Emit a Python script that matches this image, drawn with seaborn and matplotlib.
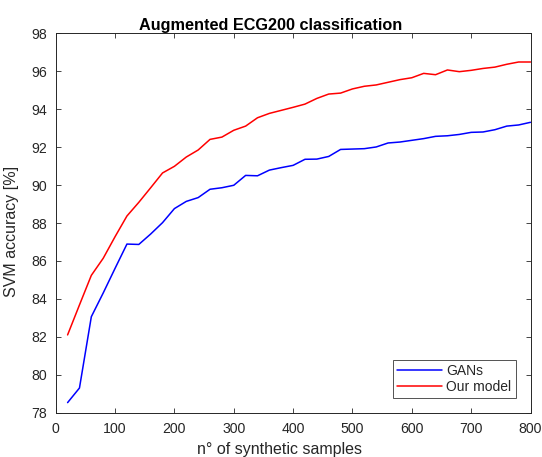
import numpy as np
import pandas as pd
import matplotlib
matplotlib.use("Agg")
import matplotlib.pyplot as plt
import seaborn as sns

samples = list(range(20, 801, 20))
gans = [78.53, 79.30, 83.06, 84.31, 85.61, 86.89, 86.87, 87.42, 88.02, 88.76,
        89.14, 89.34, 89.78, 89.86, 89.99, 90.51, 90.49, 90.79, 90.92, 91.04,
        91.36, 91.37, 91.51, 91.88, 91.90, 91.92, 92.01, 92.22, 92.27, 92.36,
        92.45, 92.57, 92.60, 92.67, 92.78, 92.80, 92.92, 93.11, 93.17, 93.31]
ours = [82.10, 83.68, 85.24, 86.14, 87.28, 88.37, 89.09, 89.86, 90.64, 90.99,
        91.48, 91.85, 92.41, 92.53, 92.89, 93.11, 93.55, 93.78, 93.94, 94.10,
        94.27, 94.57, 94.80, 94.85, 95.07, 95.21, 95.28, 95.42, 95.56, 95.66,
        95.89, 95.82, 96.07, 95.98, 96.05, 96.15, 96.22, 96.37, 96.49, 96.49]
series_names = ["GANs", "Our model"]
series_colors = ["#0000ff", "#ff0000"]
x_ticks = [0, 100, 200, 300, 400, 500, 600, 700, 800]
y_ticks = [78, 80, 82, 84, 86, 88, 90, 92, 94, 96, 98]

df = pd.DataFrame({
    "n": samples * 2,
    "acc": gans + ours,
    "model": [series_names[0]] * len(samples) + [series_names[1]] * len(samples),
})

sns.set_style("white")
plt.rcParams['font.family'] = ['Liberation Sans', 'DejaVu Sans']
plt.rcParams['xtick.direction'] = 'in'
plt.rcParams['ytick.direction'] = 'in'

fig = plt.figure(figsize=(5.42, 4.57), dpi=100)
ax = fig.add_axes([0.1028, 0.097, 0.876, 0.830])
sns.lineplot(data=df, x="n", y="acc", hue="model",
             palette=dict(zip(series_names, series_colors)), linewidth=1.1, ax=ax)

ax.set_xlim(0, 800)
ax.set_ylim(78, 98)
ax.set_xticks(x_ticks)
ax.set_yticks(y_ticks)
ax.tick_params(axis='both', which='both', direction='in', top=True, right=True,
               length=3.5, width=0.6, labelsize=10.2, colors='#262626',
               bottom=True, left=True)
ax.tick_params(axis='x', pad=7)
ax.tick_params(axis='y', pad=6.5)
for s in ax.spines.values():
    s.set_visible(True)
    s.set_color('#262626')
    s.set_linewidth(0.7)
ax.set_xlabel("n° of synthetic samples", fontsize=11.5, color='#262626')
ax.set_ylabel("SVM accuracy [%]", fontsize=11.5, color='#262626')
ax.xaxis.set_label_coords(0.472, -0.078)
ax.yaxis.set_label_coords(-0.078, 0.478)
ax.set_title("Augmented ECG200 classification", fontsize=11.7, fontweight='bold',
             pad=1.5, x=0.452, color='black')

leg = ax.legend(loc='lower right', fontsize=10, frameon=True, fancybox=False,
                edgecolor='#262626', handlelength=3.2, borderaxespad=1.06,
                labelspacing=0.15, handletextpad=0.35, borderpad=0.3)
leg.get_frame().set_linewidth(0.7)
leg.set_title(None)

fig.savefig("out.png", dpi=100)
